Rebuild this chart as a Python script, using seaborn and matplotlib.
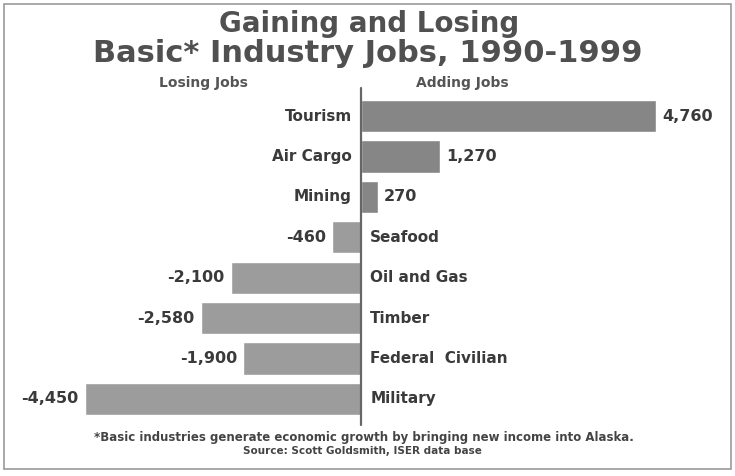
import matplotlib
matplotlib.use("Agg")
import matplotlib.pyplot as plt
import seaborn as sns
import pandas as pd
from matplotlib.patches import Rectangle

# data
industries = ["Tourism", "Air Cargo", "Mining", "Seafood", "Oil and Gas",
              "Timber", "Federal  Civilian", "Military"]
job_change = [4760, 1270, 270, -460, -2100, -2580, -1900, -4450]
value_labels = ["4,760", "1,270", "270", "-460", "-2,100", "-2,580", "-1,900", "-4,450"]

df = pd.DataFrame({"industry": industries, "change": job_change})
df["side"] = ["gain" if v > 0 else "loss" for v in job_change]

sns.set_style("white")
plt.rcParams["font.family"] = ["DejaVu Sans"]

fig = plt.figure(figsize=(7.35, 4.76), dpi=100)
ax = fig.add_axes([10 / 735, 1 - 419 / 476, 715 / 735, 323 / 476])

sns.barplot(data=df, x="change", y="industry", hue="side",
            palette={"gain": "#868686", "loss": "#9c9c9c"},
            orient="h", width=0.8, legend=False, ax=ax)

ax.set_xlim(-5660, 5870)
ax.set_ylim(7.5, -0.5)
ax.axvline(0, ymin=-0.02, ymax=1.025, color="#666666", lw=1.6, clip_on=False)

txt = "#3a3a3a"
for i, (name, v, lab) in enumerate(zip(industries, job_change, value_labels)):
    if v > 0:
        ax.text(-150, i, name, ha="right", va="center", fontsize=11,
                color=txt, fontweight="bold")
        ax.text(v + 100, i, lab, ha="left", va="center", fontsize=11.5,
                color=txt, fontweight="bold")
    else:
        ax.text(150, i, name, ha="left", va="center", fontsize=11,
                color=txt, fontweight="bold")
        ax.text(v - 100, i, lab, ha="right", va="center", fontsize=11.5,
                color=txt, fontweight="bold")

ax.set_xlabel("")
ax.set_ylabel("")
ax.set_xticks([])
ax.set_yticks([])
sns.despine(ax=ax, left=True, bottom=True)

# titles
fig.text(369 / 735, 1 - 24 / 476, "Gaining and Losing", ha="center", va="center",
         fontsize=20, fontweight="heavy", color="#505050")
fig.text(368 / 735, 1 - 53 / 476, "Basic* Industry Jobs, 1990-1999", ha="center",
         va="center", fontsize=22, fontweight="heavy", color="#505050")
fig.text(203 / 735, 1 - 83 / 476, "Losing Jobs", ha="center", va="center",
         fontsize=10, fontweight="bold", color="#555555")
fig.text(462 / 735, 1 - 83 / 476, "Adding Jobs", ha="center", va="center",
         fontsize=10, fontweight="bold", color="#555555")

# footnote
fig.text(364 / 735, 1 - 437 / 476,
         "*Basic industries generate economic growth by bringing new income into Alaska.",
         ha="center", va="center", fontsize=8.5, fontweight="bold", color="#444444")
fig.text(362 / 735, 1 - 451 / 476, "Source: Scott Goldsmith, ISER data base",
         ha="center", va="center", fontsize=7.5, fontweight="bold", color="#444444")

# frame around the whole graphic
fig.patches.append(Rectangle((4 / 735, 1 - 469 / 476), 727 / 735, 465 / 476,
                             transform=fig.transFigure, fill=False,
                             edgecolor="#999999", lw=1.2))

fig.savefig("out.png", dpi=100)
